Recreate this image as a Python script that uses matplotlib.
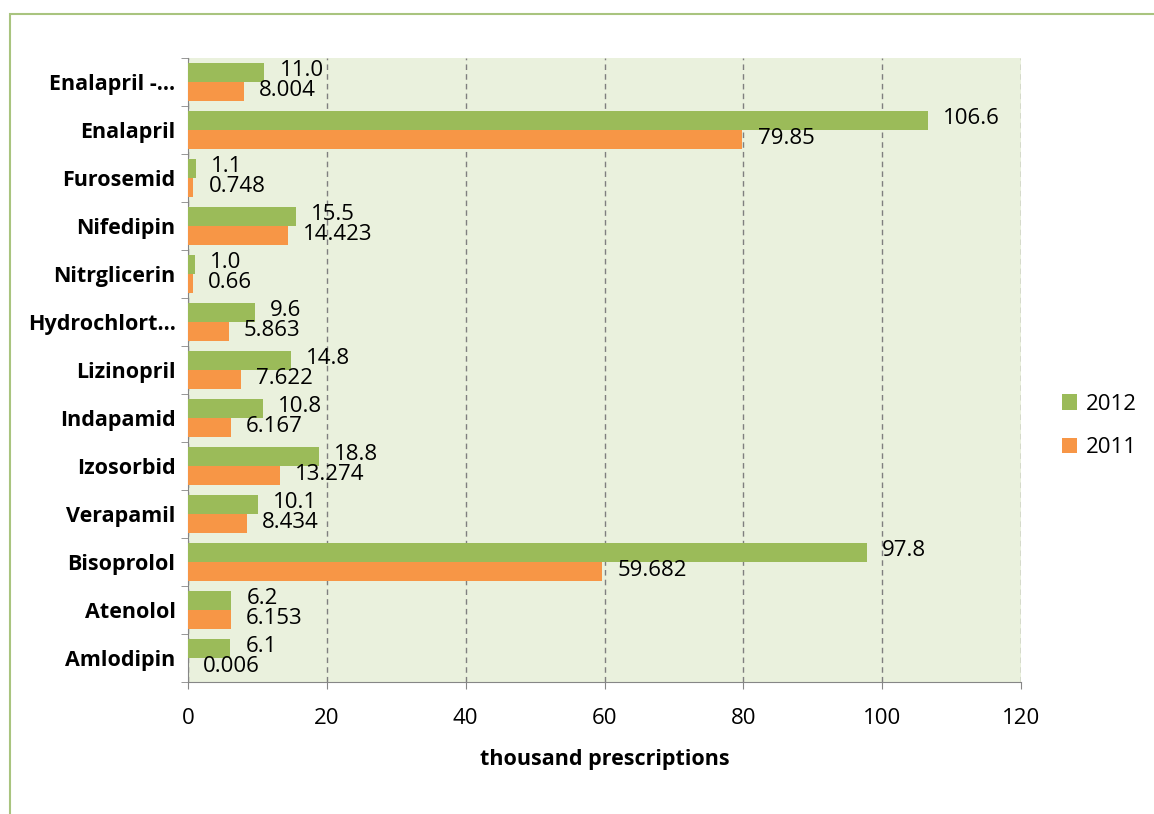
import numpy as np
import matplotlib
matplotlib.use('Agg')
import matplotlib.pyplot as plt
from matplotlib.patches import Rectangle

plt.rcParams.update({
    'font.family': ['Open Sans', 'DejaVu Sans'],
    'font.size': 16,
})

drugs = ['Enalapril -...', 'Enalapril', 'Furosemid', 'Nifedipin', 'Nitrglicerin',
         'Hydrochlort...', 'Lizinopril', 'Indapamid', 'Izosorbid', 'Verapamil',
         'Bisoprolol', 'Atenolol', 'Amlodipin']
v2012 = [11.0, 106.6, 1.1, 15.5, 1.0, 9.6, 14.8, 10.8, 18.8, 10.1, 97.8, 6.2, 6.1]
v2011 = [8.004, 79.85, 0.748, 14.423, 0.66, 5.863, 7.622, 6.167, 13.274, 8.434,
         59.682, 6.153, 0.006]
lab2012 = ['11.0', '106.6', '1.1', '15.5', '1.0', '9.6', '14.8', '10.8', '18.8',
           '10.1', '97.8', '6.2', '6.1']
lab2011 = ['8.004', '79.85', '0.748', '14.423', '0.66', '5.863', '7.622', '6.167',
           '13.274', '8.434', '59.682', '6.153', '0.006']

green = '#9BBB59'
orange = '#F79646'

fig = plt.figure(figsize=(11.54, 8.14), dpi=100)
fig.patch.set_facecolor('white')
# outer chart frame
fig.patches.append(Rectangle((10/1154, -0.1), 1.2, 1 - 14/814 + 0.1,
                             transform=fig.transFigure, fill=False,
                             edgecolor='#A9C47F', linewidth=1.5))

ax = fig.add_axes([188/1154, 1 - 682/814, (1021 - 188)/1154, (682 - 58)/814])
ax.set_facecolor('#EAF1DD')

y = np.arange(len(drugs))
h = 0.4
ax.barh(y - h/2, v2012, height=h, color=green, label='2012', zorder=3)
ax.barh(y + h/2, v2011, height=h, color=orange, label='2011', zorder=3)

for yi, v, t in zip(y, v2012, lab2012):
    ax.text(v + 2.2, yi - h/2 - 0.03, t, va='center', ha='left', fontsize=16, zorder=4)
for yi, v, t in zip(y, v2011, lab2011):
    ax.text(v + 2.2, yi + h/2 - 0.03, t, va='center', ha='left', fontsize=16, zorder=4)

ax.set_xlim(0, 120)
ax.set_ylim(len(drugs) - 0.5, -0.5)
ax.set_xticks(np.arange(0, 121, 20))
ax.xaxis.grid(True, linestyle=(0, (4, 3)), color='#7F7F7F', linewidth=1, zorder=1)
ax.set_yticks(y)
ax.set_yticklabels(drugs, fontweight='bold', fontsize=15.5)
ax.set_yticks(np.arange(-0.5, len(drugs)), minor=True)
ax.tick_params(axis='y', which='major', length=0, pad=9)
ax.tick_params(axis='y', which='minor', length=5, color='#868686', direction='out')
ax.tick_params(axis='x', length=5, color='#868686', pad=14, labelsize=16)
for s in ['top', 'right']:
    ax.spines[s].set_visible(False)
for s in ['left', 'bottom']:
    ax.spines[s].set_color('#868686')
ax.set_xlabel('thousand prescriptions', fontweight='bold', fontsize=15.5, labelpad=14)

leg = ax.legend(loc='center left', bbox_to_anchor=(1.025, 0.41), frameon=False,
                fontsize=16, handlelength=0.7, handleheight=0.7,
                handletextpad=0.4, labelspacing=1.0)

plt.savefig('out.png', dpi=100)
